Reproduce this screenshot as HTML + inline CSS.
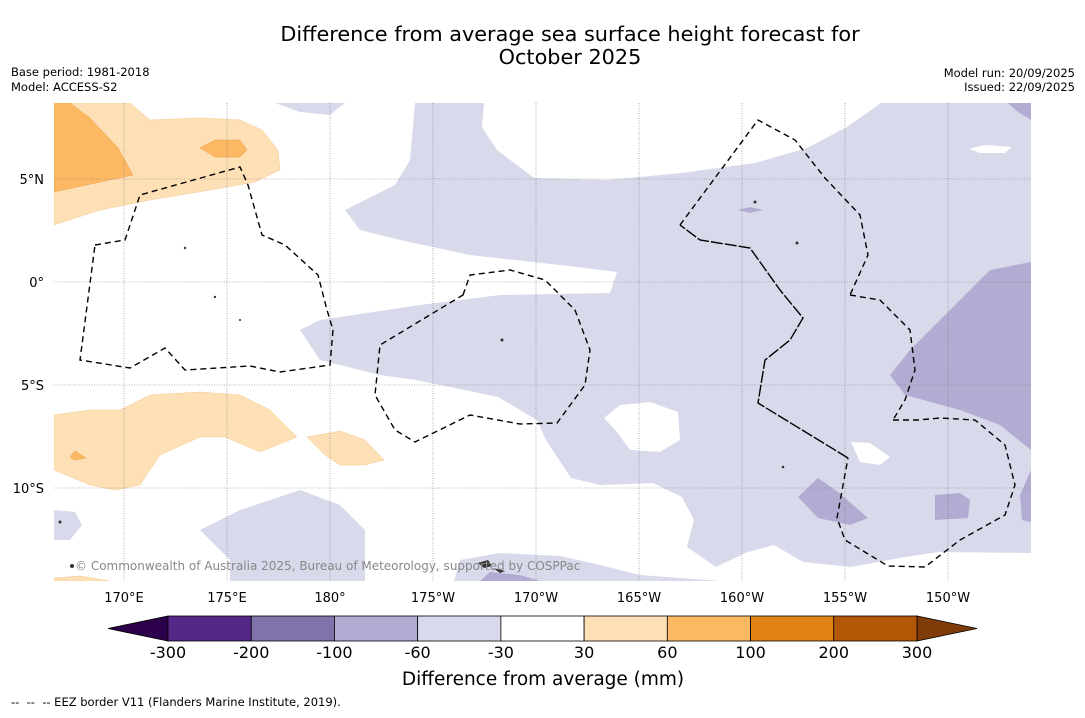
<!DOCTYPE html>
<html><head><meta charset="utf-8"><style>
body{margin:0;background:#fff;font-family:"Liberation Sans","DejaVu Sans",sans-serif;}
svg text{font-family:"DejaVu Sans","Liberation Sans",sans-serif;}
</style></head><body>
<svg width="1085" height="713" viewBox="0 0 1085 713">
<defs><clipPath id="plot"><rect x="54" y="103" width="977" height="478"/></clipPath></defs>
<text x="570" y="41" font-size="20.8" text-anchor="middle">Difference from average sea surface height forecast for</text>
<text x="570" y="64" font-size="20.8" text-anchor="middle">October 2025</text>
<text x="11" y="76" font-size="11.5">Base period: 1981-2018</text>
<text x="11" y="91" font-size="11.5">Model: ACCESS-S2</text>
<text x="1075" y="77" font-size="11.5" text-anchor="end">Model run: 20/09/2025</text>
<text x="1075" y="91" font-size="11.5" text-anchor="end">Issued: 22/09/2025</text>

<g clip-path="url(#plot)">
<rect x="54" y="103" width="977" height="478" fill="#fff"/>
<g fill="#d8daeb">
<path d="M415,103 L410,160 L395,185 L345,210 L360,230 L400,240 L470,255 L560,265 L617,272 L610,293 L500,295 L420,305 L320,320 L300,330 L320,360 L380,375 L416,380 L498,397 L537,420 L546,440 L571,478 L600,485 L653,483 L682,497 L694,520 L687,547 L716,567 L745,553 L774,545 L803,562 L851,567 L905,557 L939,552 L1031,553 L1031,103 Z"/>
<path d="M275,103 L345,103 L330,115 L300,112 Z"/>
<path d="M200,530 L240,510 L300,490 L340,505 L365,530 L365,581 L230,581 L230,560 Z"/>
<path d="M54,510 L75,512 L82,525 L70,540 L54,540 Z"/>
<path d="M454,581 L460,560 L500,553 L560,556 L600,565 L640,575 L720,581 Z"/>
</g>
<g fill="#fff">
<path d="M484,103 L881,103 L847,127 L807,148 L755,163 L681,173 L608,180 L534,178 L497,150 L482,127 Z"/>
<path d="M604,418 L620,405 L650,402 L678,412 L680,440 L660,452 L630,450 L617,432 Z"/>
<path d="M851,442 L870,443 L890,457 L880,465 L860,462 Z"/>
<path d="M969,149 L985,145 L1012,147 L1005,153 L980,153 Z"/>
</g>
<g fill="#b2abd2">
<path d="M1031,262 L990,270 L960,300 L930,330 L910,350 L890,375 L905,395 L960,410 L1000,425 L1031,450 Z"/>
<path d="M1008,103 L1031,103 L1031,120 L1018,112 Z"/>
<path d="M1031,470 L1020,495 L1022,520 L1031,522 Z"/>
<path d="M818,478 L838,492 L868,518 L850,525 L818,518 L798,497 Z"/>
<path d="M935,495 L960,493 L970,500 L968,518 L935,520 Z"/>
<path d="M738,210 L750,207 L763,210 L750,213 Z"/>
<path d="M480,581 L490,572 L520,575 L540,581 Z"/>
</g>
<g fill="#fee0b6" stroke="#f5c98f" stroke-width="0.5">
<path d="M54,103 L130,103 L150,120 L200,118 L240,120 L262,130 L278,150 L280,170 L255,182 L210,190 L150,200 L100,210 L54,225 Z"/>
<path d="M54,415 L90,410 L120,410 L150,395 L200,392 L240,395 L270,410 L297,437 L260,452 L225,437 L200,437 L160,455 L140,485 L115,490 L90,485 L54,470 Z"/>
<path d="M307,437 L340,431 L365,440 L384,460 L365,465 L340,465 L325,455 Z"/>
<path d="M54,578 L80,576 L110,581 L54,581 Z"/>
</g>
<g fill="#fdb863" stroke="#eaa04a" stroke-width="0.5">
<path d="M54,103 L70,103 L90,118 L118,148 L133,175 L100,182 L54,192 Z"/>
<path d="M200,148 L215,140 L240,140 L247,150 L240,157 L215,157 Z"/>
<path d="M70,457 L75,451 L86,458 L75,460 Z"/>
</g>
<g stroke="#777" stroke-width="0.6" stroke-dasharray="1,1.5">
<line x1="124" y1="103" x2="124" y2="581"/><line x1="227" y1="103" x2="227" y2="581"/><line x1="330" y1="103" x2="330" y2="581"/><line x1="433" y1="103" x2="433" y2="581"/><line x1="536" y1="103" x2="536" y2="581"/><line x1="639" y1="103" x2="639" y2="581"/><line x1="742" y1="103" x2="742" y2="581"/><line x1="845" y1="103" x2="845" y2="581"/><line x1="948" y1="103" x2="948" y2="581"/>
<line x1="54" y1="179" x2="1031" y2="179"/><line x1="54" y1="282" x2="1031" y2="282"/><line x1="54" y1="385" x2="1031" y2="385"/><line x1="54" y1="488" x2="1031" y2="488"/>
</g>
<g fill="none" stroke="#000" stroke-width="1.4" stroke-dasharray="6,4">
<path d="M95,245 L125,240 L140,195 L240,167 L248,185 L262,235 L285,245 L318,275 L327,310 L333,330 L330,365 L280,372 L250,366 L185,370 L165,348 L130,368 L80,360 Z"/>
<path d="M463,295 L470,275 L510,270 L545,280 L575,310 L590,350 L585,385 L557,423 L520,424 L470,415 L415,442 L395,430 L375,395 L380,345 Z"/>
<path d="M680,225 L758,120 L795,140 L825,178 L860,215 L868,255 L850,295"/>
<path d="M850,295 L880,300 L910,330 L915,370 L905,400 L893,420"/>
<path d="M893,420 L918,420 L940,418 L975,420 L1005,445 L1015,485 L1005,515 L960,540 L925,567 L888,566 L845,540 L837,518 L848,458"/>
<path d="M848,458 L758,403 L765,360 L790,340 L803,318 L780,290 L750,248 L700,240 L680,225" stroke-dasharray="12,2"/>
</g>
<g fill="#333">
<circle cx="185" cy="248" r="1.2"/><circle cx="215" cy="297" r="1.2"/><circle cx="240" cy="320" r="1"/><circle cx="502" cy="340" r="1.5"/><circle cx="755" cy="202" r="1.5"/><circle cx="797" cy="243" r="1.5"/><circle cx="783" cy="467" r="1.3"/><circle cx="60" cy="522" r="1.5"/><circle cx="72" cy="566" r="2"/>
<path d="M478,563 L488,560 L492,566 L484,568 Z"/><path d="M493,568 L505,571 L500,573 Z"/>
</g>
<text x="75" y="570" font-size="12" fill="#888">© Commonwealth of Australia 2025, Bureau of Meteorology, supported by COSPPac</text>
</g>

<g font-size="13">
<text x="44" y="184" text-anchor="end">5°N</text><text x="44" y="287" text-anchor="end">0°</text><text x="44" y="390" text-anchor="end">5°S</text><text x="44" y="493" text-anchor="end">10°S</text>
</g>
<g font-size="13" text-anchor="middle">
<text x="124" y="602">170°E</text><text x="227" y="602">175°E</text><text x="330" y="602">180°</text><text x="433" y="602">175°W</text><text x="536" y="602">170°W</text><text x="639" y="602">165°W</text><text x="742" y="602">160°W</text><text x="845" y="602">155°W</text><text x="948" y="602">150°W</text>
</g>

<g id="cbar"></g>
<text x="543" y="685" font-size="18.5" text-anchor="middle">Difference from average (mm)</text>
<text x="11" y="706" font-size="11.5" xml:space="preserve">--  --  -- EEZ border V11 (Flanders Marine Institute, 2019).</text>
</svg>
<script>
const cbColors = ["#542788","#8073ac","#b2abd2","#d8daeb","#ffffff","#fee0b6","#fdb863","#e08214","#b35806"];
const cbTicks = ["-300","-200","-100","-60","-30","30","60","100","200","300"];
const g = document.getElementById('cbar');
const NS = "http://www.w3.org/2000/svg";
const x0 = 168, x1 = 917, y0 = 616, h = 25;
const w = (x1 - x0) / cbColors.length;
function xAt(i){ return x0 + i * w; }
const lt = document.createElementNS(NS,'polygon');
lt.setAttribute('points', `${x0},${y0} ${x0},${y0+h} 108,${y0+h/2}`);
lt.setAttribute('fill','#2d004b'); lt.setAttribute('stroke','#000'); lt.setAttribute('stroke-width','0.8');


g.appendChild(lt);
const rt = document.createElementNS(NS,'polygon');
rt.setAttribute('points', `${x1},${y0} ${x1},${y0+h} 977,${y0+h/2}`);
rt.setAttribute('fill','#7f3b08'); rt.setAttribute('stroke','#000'); rt.setAttribute('stroke-width','0.8');


g.appendChild(rt);
cbColors.forEach((c,i)=>{
  const r = document.createElementNS(NS,'rect');
  r.setAttribute('x', xAt(i)); r.setAttribute('y', y0); r.setAttribute('width', w); r.setAttribute('height', h);
  r.setAttribute('fill', c); r.setAttribute('stroke','#000'); r.setAttribute('stroke-width','0.8');
  
  
  g.appendChild(r);
});
cbTicks.forEach((t,i)=>{
  const tx = document.createElementNS(NS,'text');
  tx.setAttribute('x', xAt(i)); tx.setAttribute('y', 658); tx.setAttribute('font-size','16'); tx.setAttribute('text-anchor','middle');
  tx.textContent = t;
  
  
  g.appendChild(tx);
});
</script>
</body></html>
